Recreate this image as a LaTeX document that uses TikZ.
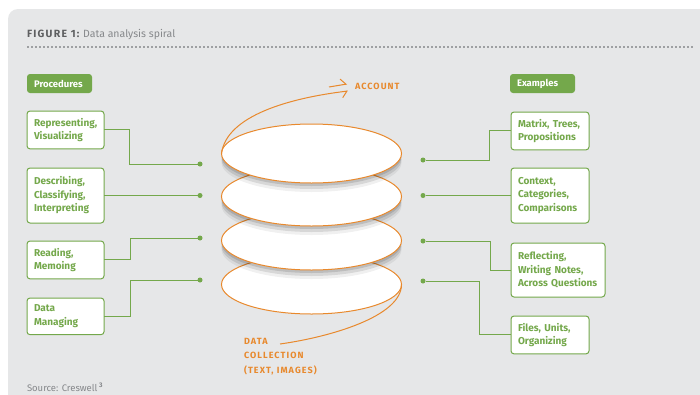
\documentclass[tikz,border=0pt]{standalone}
\usepackage{fontspec}
\setmainfont{Fira Sans}
\usepackage{xcolor}
\definecolor{leaf}{HTML}{74A84B}
\definecolor{spiral}{HTML}{E8892D}
\definecolor{panel}{HTML}{E6E7E8}
\definecolor{ink}{HTML}{5E5F61}
\definecolor{mute}{HTML}{86888B}
\usetikzlibrary{shapes,arrows.meta,shadows}
\hyphenpenalty=10000

\begin{document}
\begin{tikzpicture}
	[
		x=1pt, y=-1pt,
		every node/.style = {inner sep=0pt, outer sep=0pt},
		box/.style = {draw=leaf, line width=1pt, fill=white, rounded corners=3pt, anchor=north west, align=left, inner xsep=7pt, inner ysep=7pt, text=leaf, font=\fontsize{10}{13.5}\selectfont\bfseries},
		tag/.style = {fill=leaf, rounded corners=3pt, anchor=north west, align=left, text width=51pt, minimum height=19pt, inner xsep=7pt, text=white, font=\fontsize{9.5}{11}\selectfont\bfseries},
		layer/.style = {shape=ellipse, draw=spiral, line width=1pt, fill=white, minimum width=180pt, minimum height=59pt},
		shade/.style = {general shadow={shadow yshift=-3pt, xscale=0.98, fill=black, opacity=0.12},
			general shadow={shadow yshift=-6pt, xscale=0.96, fill=black, opacity=0.1},
			general shadow={shadow yshift=-9pt, xscale=0.93, fill=black, opacity=0.06}},
		dot/.style = {shape=circle, fill=leaf, minimum size=5pt},
		link/.style = {draw=leaf, line width=1pt},
		turn/.style = {draw=spiral, line width=1pt},
		caps/.style = {text=spiral, align=left, font=\fontsize{9}{14.5}\selectfont\bfseries\addfontfeatures{LetterSpace=12}},
	]

  \path[use as bounding box, fill=white] (0,0) rectangle (700,394);
  \fill[panel, rounded corners=10pt] (8,9) rectangle (720,414);

  % heading and rule
  \node[anchor=base west, text=mute, font=\fontsize{10.5}{13}\selectfont] (title) at (27,37)
  	{\textcolor{ink}{\fontsize{10.5}{13}\selectfont\bfseries\addfontfeatures{LetterSpace=12}FIGURE 1:} Data analysis spiral};
  \draw[mute!80, line width=1.5pt, dash pattern=on 1.5pt off 2.5pt] (27,47) -- (695,47);

  \node[tag] (proc) at (27,74) {Procedures};
  \node[tag] (exam) at (510,74) {Examples};

  % procedures
  \node[box, text width=63pt] (repr) at (27,111) {Representing,\\Visualizing};
  \node[box, text width=63pt, minimum height=55pt] (descr) at (27,168) {Describing,\\Classifying,\\Interpreting};
  \node[box, text width=63pt] (read) at (27,241) {Reading,\\Memoing};
  \node[box, text width=63pt] (manag) at (27,298) {Data\\Managing};

  % examples
  \node[box, text width=64pt] (matrix) at (511,112) {Matrix, Trees,\\Propositions};
  \node[box, text width=64pt, minimum height=55pt] (context) at (511,168) {Context,\\Categories,\\Comparisons};
  \node[box, text width=80pt, minimum height=54pt] (reflect) at (511,243) {Reflecting,\\Writing Notes,\\Across Questions};
  \node[box, text width=64pt] (files) at (511,316) {Files, Units,\\Organizing};

  % the spiral
  \node[layer] (layer4) at (311.5,284.5) {};
  \node[layer, shade] (layer3) at (311.5,240.5) {};
  \node[layer, shade] (layer2) at (311.5,196.5) {};
  \node[layer, shade] (layer1) at (311.5,153.5) {};

  \node[dot] (dl1) at (200,164) {};
  \node[dot] (dl2) at (200,195.5) {};
  \node[dot] (dl3) at (200,238) {};
  \node[dot] (dl4) at (200,280) {};
  \node[dot] (dr1) at (423,160) {};
  \node[dot] (dr2) at (423,195.5) {};
  \node[dot] (dr3) at (423,241) {};
  \node[dot] (dr4) at (423,281) {};

  \path[link]
  (repr.east) -- ++(25,0) |- (dl1)
  (descr.east) -- (dl2)
  (read.east) -- ++(26,0) |- (dl3)
  (manag.east) -- ++(26,0) |- (dl4)
  (matrix.west) -- ++(-22,0) |- (dr1)
  (context.west) -- (dr2)
  (reflect.west) -- ++(-21,0) |- (dr3)
  (files.west) -- ++(-32,0) |- (dr4);

  \node[caps, anchor=west] (account) at (355,86.5) {ACCOUNT};
  \coordinate (acctip) at (348,91);
  \coordinate (accmark) at (329,87);
  \draw[turn, -{Straight Barb[right, length=5pt, width=12pt]}] (layer1.west) .. controls +(5,-38) and (290,98) .. (acctip);
  \draw[turn, -{Straight Barb[left, length=5pt, width=12pt]}] (accmark) -- ++(18,-3);

  \node[caps, anchor=north west] (data) at (244,338) {DATA\\COLLECTION\\(TEXT, IMAGES)};
  \coordinate (datatip) at (280,344);
  \draw[turn] (layer4.east) .. controls +(0,32) and (330,337) .. (datatip);

  \node[anchor=base west, text=mute, font=\fontsize{9.5}{11}\selectfont] (source) at (27,391)
  	{Source: Creswell\,\textsuperscript{\bfseries 3}};

\end{tikzpicture}
\end{document}
